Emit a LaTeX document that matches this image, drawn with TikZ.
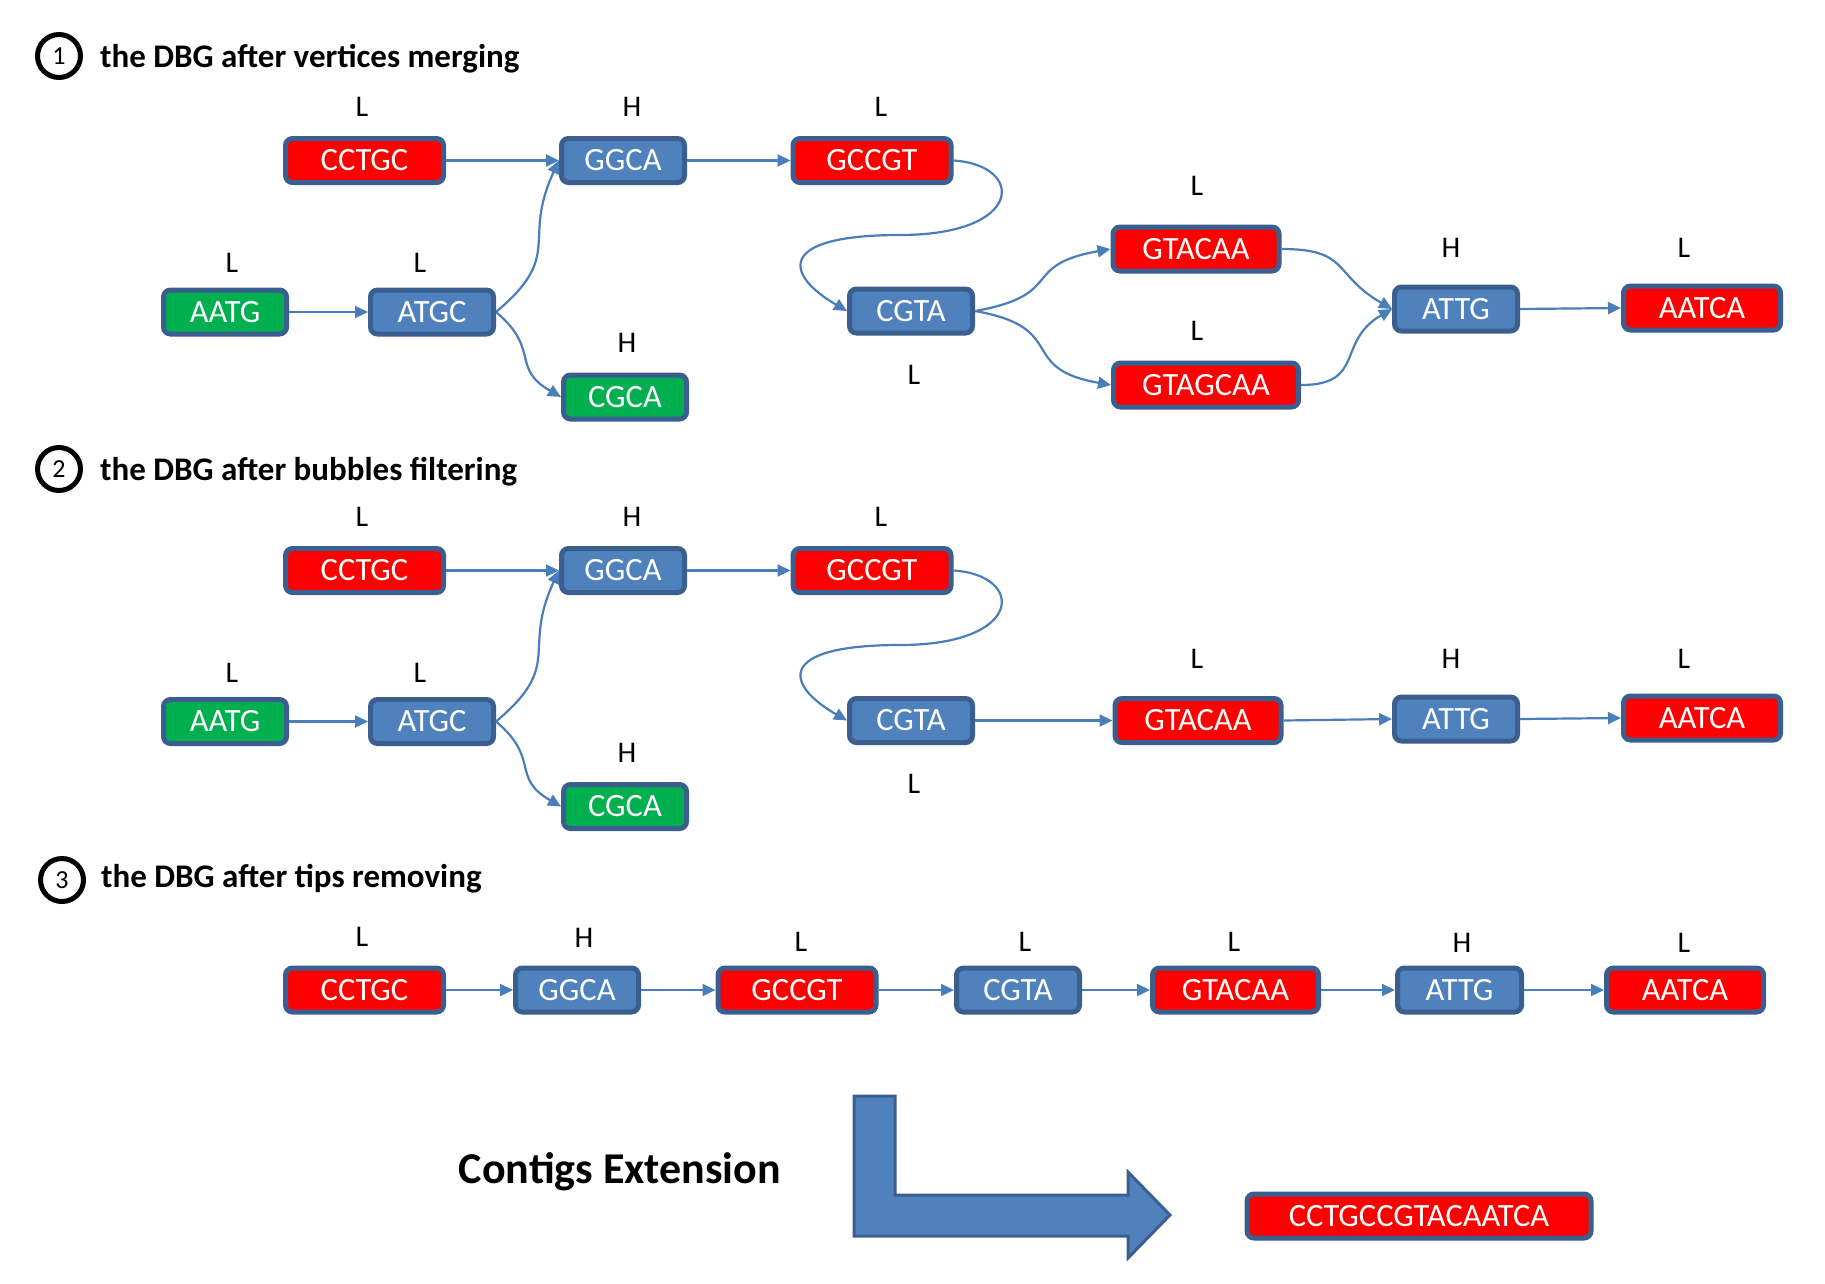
\documentclass[tikz,border=0pt]{standalone}
\usepackage{fontspec}
\setmainfont{Carlito}
\usetikzlibrary{arrows.meta}
\definecolor{boxred}{HTML}{FF0000}
\definecolor{boxblue}{HTML}{4F81BD}
\definecolor{boxgreen}{HTML}{00B050}
\definecolor{bordc}{HTML}{3A5F8F}
\definecolor{edgec}{HTML}{4A7EBB}
\tikzset{
  kbox/.style={draw=bordc, line width=5pt, rounded corners=7pt, minimum height=44pt,
    text=white, font=\fontsize{32.5}{36}\selectfont, inner sep=0pt},
  rbox/.style={kbox, fill=boxred},
  bbox/.style={kbox, fill=boxblue},
  gbox/.style={kbox, fill=boxgreen},
  lab/.style={font=\fontsize{30}{34}\selectfont, inner sep=0pt},
  ttl/.style={font=\bfseries\fontsize{33}{38}\selectfont, anchor=base west, inner sep=0pt},
  num/.style={circle, draw=black, line width=5pt, minimum size=43pt, inner sep=0pt,
    font=\fontsize{26}{30}\selectfont},
  edge/.style={draw=edgec, line width=2.2pt, -{Triangle[length=13pt,width=12pt]}}
}
\begin{document}
\begin{tikzpicture}[x=1pt,y=-1pt]
\useasboundingbox (0,0) rectangle (1825,1283);
% ---------------- Section 1
\node[num] (n1) at (59,56) {1};
\node[ttl] (t1) at (100,67) {the DBG after vertices merging};
\node[rbox, minimum width=158pt] (a1) at (364.5,160.5) {CCTGC};
\node[bbox, minimum width=123pt] (b1) at (623,160.5) {GGCA};
\node[rbox, minimum width=158pt] (c1) at (872,160.5) {GCCGT};
\node[gbox, minimum width=123pt] (d1) at (225,312) {AATG};
\node[bbox, minimum width=123pt] (e1) at (432,312) {ATGC};
\node[gbox, minimum width=123pt] (f1) at (625,397) {CGCA};
\node[bbox, minimum width=123pt] (g1) at (911,311) {CGTA};
\node[rbox, minimum width=166pt] (h1) at (1196,249) {GTACAA};
\node[rbox, minimum width=185pt] (i1) at (1206,385) {GTAGCAA};
\node[bbox, minimum width=123pt] (j1) at (1456,309) {ATTG};
\node[rbox, minimum width=157pt] (k1) at (1702,308) {AATCA};
\node[lab] (la1) at (362,107) {L};
\node[lab] (lb1) at (632,107) {H};
\node[lab] (lc1) at (881,107) {L};
\node[lab] (ld1) at (232,263) {L};
\node[lab] (le1) at (420,263) {L};
\node[lab] (lf1) at (627,343) {H};
\node[lab] (lg1) at (914,375) {L};
\node[lab] (lh1) at (1197,186) {L};
\node[lab] (li1) at (1197,331) {L};
\node[lab] (lj1) at (1451,248) {H};
\node[lab] (lk1) at (1684,248) {L};
\draw[edge] (a1.east) -- (b1.west);
\draw[edge] (b1.east) -- (c1.west);
\draw[edge] (d1.east) -- (e1.west);
\draw[edge] (e1.east) to[out=40,in=-115,looseness=1.4] (b1.west);
\draw[edge] (e1.east) to[out=-40,in=150,looseness=1.4] (f1.west);
\draw[edge] (c1.east) .. controls (1025,165) and (1025,235) .. (900,235)
  .. controls (775,235) and (785,275) .. (g1.west);
\draw[edge] (g1.east) to[out=10,in=-170,looseness=1.6] (h1.west);
\draw[edge] (g1.east) to[out=-10,in=170,looseness=1.6] (i1.west);
\draw[edge] (h1.east) to[out=0,in=150,looseness=1.4] (j1.west);
\draw[edge] (i1.east) to[out=0,in=-150,looseness=1.4] (j1.west);
\draw[edge] (j1.east) -- (k1.west);
% ---------------- Section 2
\node[num] (n2) at (59,469) {2};
\node[ttl] (t2) at (100,480) {the DBG after bubbles filtering};
\node[rbox, minimum width=158pt] (a2) at (364.5,570.5) {CCTGC};
\node[bbox, minimum width=123pt] (b2) at (623,570.5) {GGCA};
\node[rbox, minimum width=158pt] (c2) at (872,570.5) {GCCGT};
\node[gbox, minimum width=123pt] (d2) at (225,721.5) {AATG};
\node[bbox, minimum width=123pt] (e2) at (432,721.5) {ATGC};
\node[gbox, minimum width=123pt] (f2) at (625,806.5) {CGCA};
\node[bbox, minimum width=123pt] (g2) at (911,720.5) {CGTA};
\node[rbox, minimum width=166pt] (h2) at (1198,720.5) {GTACAA};
\node[bbox, minimum width=123pt] (j2) at (1456,719) {ATTG};
\node[rbox, minimum width=157pt] (k2) at (1702,718) {AATCA};
\node[lab] (la2) at (362,517) {L};
\node[lab] (lb2) at (632,517) {H};
\node[lab] (lc2) at (881,517) {L};
\node[lab] (ld2) at (232,673) {L};
\node[lab] (le2) at (420,673) {L};
\node[lab] (lf2) at (627,753) {H};
\node[lab] (lg2) at (914,784) {L};
\node[lab] (lh2) at (1197,659) {L};
\node[lab] (lj2) at (1451,659) {H};
\node[lab] (lk2) at (1684,659) {L};
\draw[edge] (a2.east) -- (b2.west);
\draw[edge] (b2.east) -- (c2.west);
\draw[edge] (d2.east) -- (e2.west);
\draw[edge] (e2.east) to[out=40,in=-115,looseness=1.4] (b2.west);
\draw[edge] (e2.east) to[out=-40,in=150,looseness=1.4] (f2.west);
\draw[edge] (c2.east) .. controls (1025,575) and (1025,645) .. (900,645)
  .. controls (775,645) and (785,685) .. (g2.west);
\draw[edge] (g2.east) -- (h2.west);
\draw[edge] (h2.east) -- (j2.west);
\draw[edge] (j2.east) -- (k2.west);
% ---------------- Section 3
\node[num] (n3) at (62,880) {3};
\node[ttl] (t3) at (101,887) {the DBG after tips removing};
\node[rbox, minimum width=158pt] (a3) at (364.5,990) {CCTGC};
\node[bbox, minimum width=123pt] (b3) at (577,990) {GGCA};
\node[rbox, minimum width=158pt] (c3) at (797,990) {GCCGT};
\node[bbox, minimum width=123pt] (g3) at (1018,990) {CGTA};
\node[rbox, minimum width=166pt] (h3) at (1235.5,990) {GTACAA};
\node[bbox, minimum width=124pt] (j3) at (1459.5,990) {ATTG};
\node[rbox, minimum width=157pt] (k3) at (1685,990) {AATCA};
\node[lab] (la3) at (362,937) {L};
\node[lab] (lb3) at (584,938) {H};
\node[lab] (lc3) at (801,942) {L};
\node[lab] (lg3) at (1025,942) {L};
\node[lab] (lh3) at (1234,942) {L};
\node[lab] (lj3) at (1462,943) {H};
\node[lab] (lk3) at (1684,943) {L};
\draw[edge] (a3.east) -- (b3.west);
\draw[edge] (b3.east) -- (c3.west);
\draw[edge] (c3.east) -- (g3.west);
\draw[edge] (g3.east) -- (h3.west);
\draw[edge] (h3.east) -- (j3.west);
\draw[edge] (j3.east) -- (k3.west);
% ---------------- Contigs extension
\node[font=\bfseries\fontsize{44}{50}\selectfont, inner sep=0pt] (ce) at (620,1172) {Contigs Extension};
\draw[fill=boxblue, draw=bordc, line width=3pt, line join=miter]
  (854,1096) -- (895,1096) -- (895,1195) -- (1128,1195) -- (1128,1172) -- (1170,1215)
  -- (1128,1258) -- (1128,1236) -- (854,1236) -- cycle;
\node[rbox, minimum width=344pt] (res) at (1419,1216) {CCTGCCGTACAATCA};
\end{tikzpicture}
\end{document}
